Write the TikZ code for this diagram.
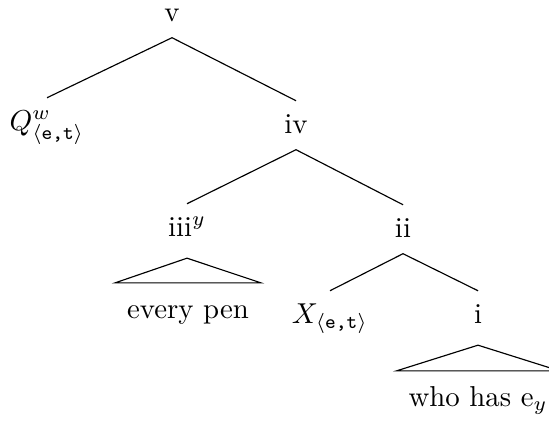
\documentclass[tikz,border=0pt]{standalone}
\usepackage{amsmath}

\begin{document}
\begin{tikzpicture}[
  x=0.3472pt, y=-0.3472pt,
  tnode/.style={
    anchor=base,
    inner xsep=4pt,
    inner ysep=0pt,
    text height=11pt,
    text depth=5.6pt
  },
  roofnode/.style={tnode, text depth=7.5pt},
  leaf/.style={tnode, text height=12pt},
  branch/.style={draw=black, line width=0.4pt}
]
\useasboundingbox (0,0) rectangle (549,422);

\node[tnode] (v) at (172,21) {v};
\node[tnode] (q) at (47,130) {$Q^{w}_{\langle\text{\texttt{e,t}}\rangle}$};
\node[tnode] (iv) at (296,133) {iv};
\node[roofnode] (iii) at (187,236) {iii$^{y}$};
\node[tnode] (ii) at (403,237) {ii};
\node[leaf] (everypen) at (188,318) {every pen};
\node[tnode] (x) at (330,323) {$X_{\langle\text{\texttt{e,t}}\rangle}$};
\node[roofnode] (i) at (478,323) {i};
\node[leaf] (whohas) at (478,406) {who has e$_{y}$};

\draw[branch] (v.south) -- (q.north);
\draw[branch] (v.south) -- (iv.north);
\draw[branch] (iv.south) -- (iii.north);
\draw[branch] (iv.south) -- (ii.north);
\draw[branch] (ii.south) -- (x.north);
\draw[branch] (ii.south) -- (i.north);

% roofs
\draw[branch] (everypen.north west) -- (iii.south) -- (everypen.north east) -- cycle;
\draw[branch] (whohas.north west) -- (i.south) -- (whohas.north east) -- cycle;

\end{tikzpicture}
\end{document}
